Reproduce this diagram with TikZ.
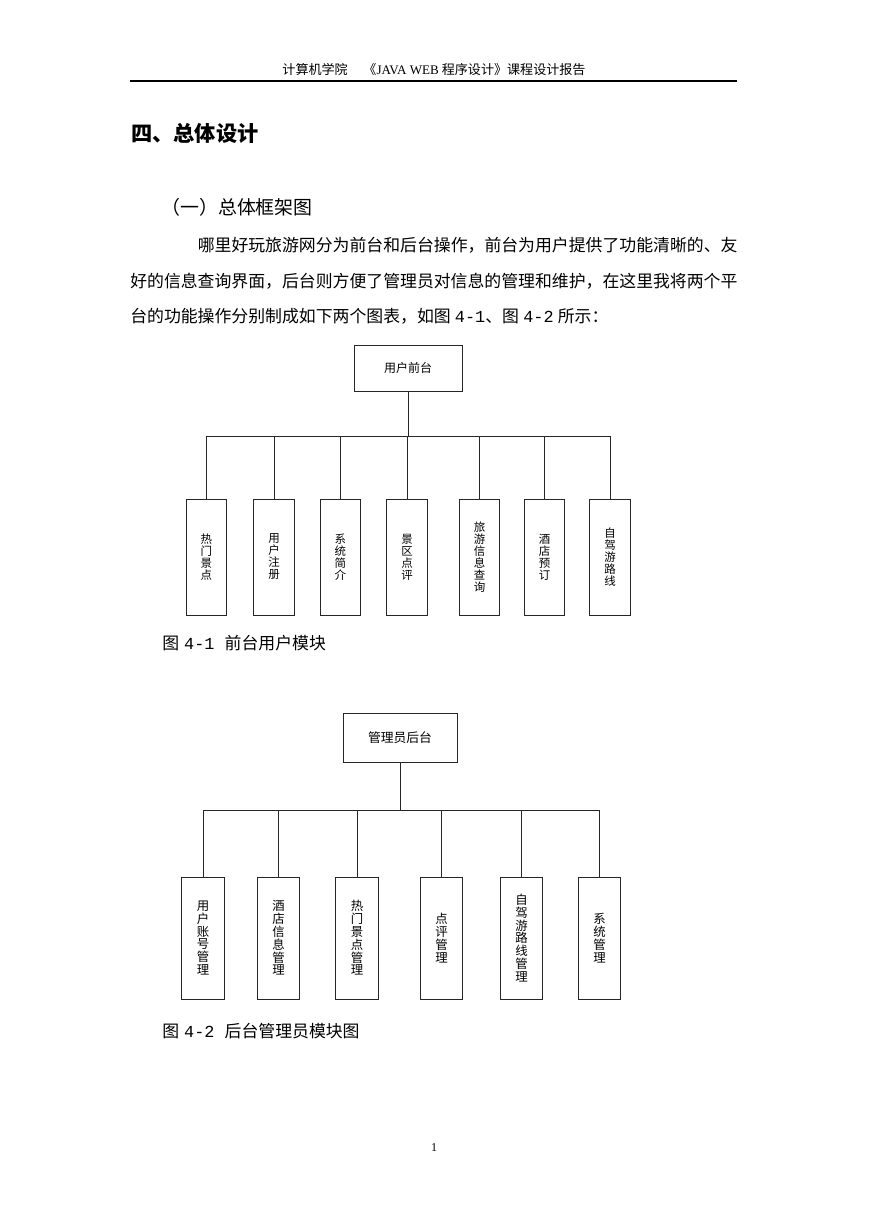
\documentclass[tikz,border=0pt]{standalone}
\usepackage{fontspec}
\newfontfamily\cjk{Noto Sans CJK SC}
\newfontfamily\lser{Liberation Serif}
\newfontfamily\lmono{Liberation Mono}
\begin{document}
\begin{tikzpicture}[x=0.75pt,y=-0.75pt,
  ln/.style={line width=0.7pt, draw=black!85},
  topbox/.style={ln, draw, inner sep=0pt, outer sep=0pt, font=\cjk\fontsize{9}{10}\selectfont},
  kidA/.style={ln, draw, inner sep=0pt, outer sep=0pt, minimum width=30.4pt, minimum height=87pt, align=center, font=\cjk\fontsize{8.6}{9}\selectfont},
  kidB/.style={ln, draw, inner sep=0pt, outer sep=0pt, minimum width=31.9pt, minimum height=91.5pt, align=center, font=\cjk\fontsize{9.3}{9.6}\selectfont},
  body/.style={inner sep=0pt, anchor=west, font=\cjk\fontsize{12.65}{14}\selectfont},
]
\useasboundingbox (0,0) rectangle (869,1228);
\fill[white] (0,0) rectangle (869,1228);

% header
\node[inner sep=0pt, font=\cjk\fontsize{9.8}{11}\selectfont] (hdr) at (434,70)
  {计算机学院\hspace{1.2em}《{\lser JAVA WEB} 程序设计》课程设计报告};
\coordinate (hl) at (130,81);
\coordinate (hr) at (737,81);
\draw[line width=0.8pt] (hl) -- (hr);

% titles
\node[body, font=\cjk\bfseries\fontsize{15.9}{18}\selectfont] (t1) at (131,133) {四、总体设计};
\node[body, font=\cjk\fontsize{14.2}{16}\selectfont] (t2) at (161,207) {（一）总体框架图};

% paragraph
\node[body] (p1) at (197.5,245) {哪里好玩旅游网分为前台和后台操作，前台为用户提供了功能清晰的、友};
\node[body] (p2) at (130,281) {好的信息查询界面，后台则方便了管理员对信息的管理和维护，在这里我将两个平};
\node[body] (p3) at (130,316) {台的功能操作分别制成如下两个图表，如图\hspace{0.25em}{\lmono 4-1}、图\hspace{0.25em}{\lmono 4-2}\hspace{0.25em}所示：};

% diagram 1
\node[topbox, minimum width=81pt, minimum height=34.5pt] (u) at (408,368) {用户前台};
\coordinate (bus1) at (408,436);
\node[kidA] (a1) at (206.3,557) {热\\门\\景\\点};
\node[kidA] (a2) at (274,557) {用\\户\\注\\册};
\node[kidA] (a3) at (340.3,557) {系\\统\\简\\介};
\node[kidA] (a4) at (407,557) {景\\区\\点\\评};
\node[kidA] (a5) at (479.5,557) {旅\\游\\信\\息\\查\\询};
\node[kidA] (a6) at (544.5,557) {酒\\店\\预\\订};
\node[kidA] (a7) at (610,557) {自\\驾\\游\\路\\线};
\draw[ln] (u.south) -- (bus1);
\foreach \k in {a1,a2,a3,a4,a5,a6,a7} \draw[ln] (bus1) -| (\k.north);

\node[body] (c1) at (162,643) {图\hspace{0.3em}{\lmono 4-1}\hspace{0.6em}前台用户模块};

% diagram 2
\node[topbox, minimum width=85.5pt, minimum height=36.75pt, font=\cjk\fontsize{9.6}{10}\selectfont] (m) at (400,737.5) {管理员后台};
\coordinate (bus2) at (400,810);
\node[kidB] (b1) at (203,938) {用\\户\\账\\号\\管\\理};
\node[kidB] (b2) at (278.5,938) {酒\\店\\信\\息\\管\\理};
\node[kidB] (b3) at (357,938) {热\\门\\景\\点\\管\\理};
\node[kidB] (b4) at (441.5,938) {点\\评\\管\\理};
\node[kidB] (b5) at (521.5,938) {自\\驾\\游\\路\\线\\管\\理};
\node[kidB] (b6) at (599.5,938) {系\\统\\管\\理};
\draw[ln] (m.south) -- (bus2);
\foreach \k in {b1,b2,b3,b4,b5,b6} \draw[ln] (bus2) -| (\k.north);

\node[body] (c2) at (162,1031) {图\hspace{0.3em}{\lmono 4-2}\hspace{0.6em}后台管理员模块图};

% page number
\node[inner sep=0pt, font=\lser\fontsize{9}{10}\selectfont] (pg) at (434,1148) {1};
\end{tikzpicture}
\end{document}
